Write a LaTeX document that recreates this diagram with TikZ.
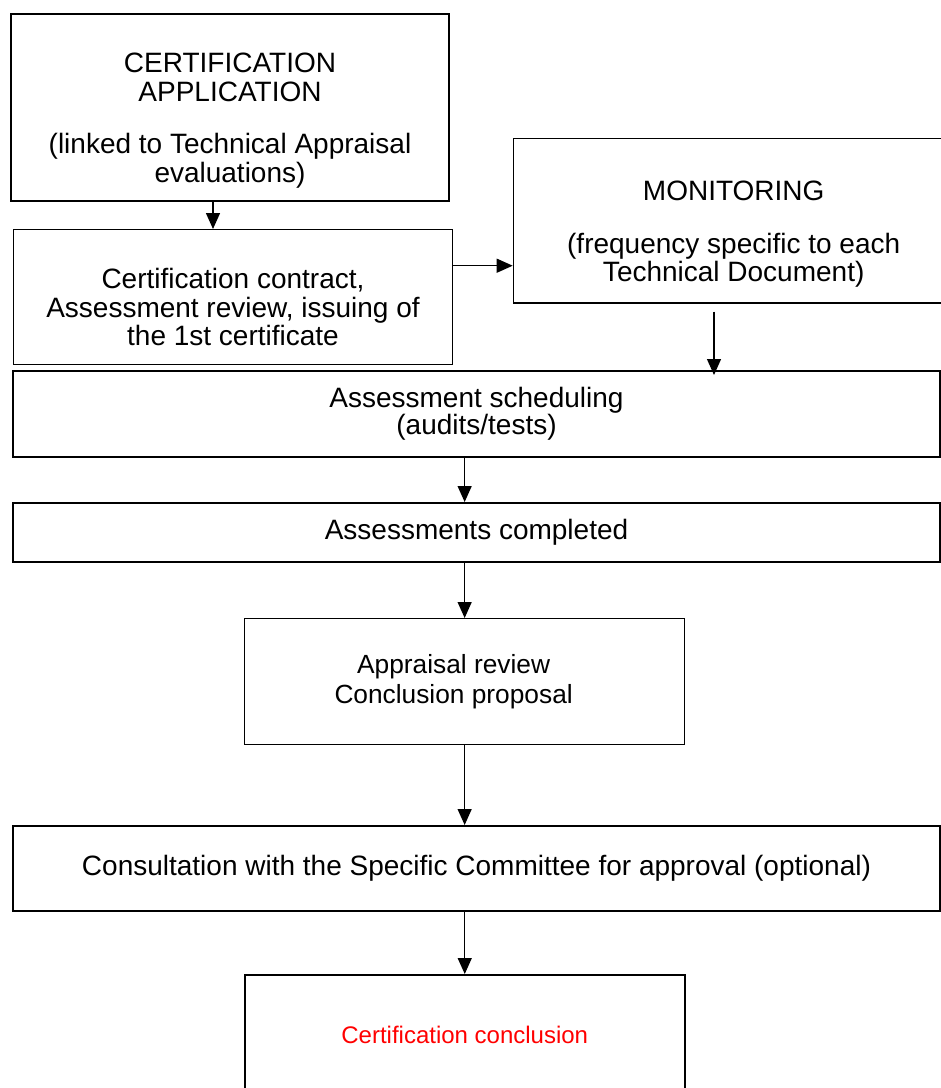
\documentclass[tikz,border=0pt]{standalone}
\usepackage{fontspec}
\setmainfont{Liberation Sans}
\usetikzlibrary{arrows.meta,calc}
\begin{document}
\begin{tikzpicture}[x=1pt,y=-1pt,
  box/.style={draw=black, line width=2pt, align=center, inner sep=0pt, anchor=north west,
              font=\fontsize{28}{28.5}\selectfont},
  thinbox/.style={box, line width=1.3pt},
  arr/.style={draw=black, line width=1.3pt, -{Triangle[length=16pt,width=14pt]}}]
\useasboundingbox (0,0) rectangle (941,1088);
\clip (0,0) rectangle (941,1088);

\node[box, minimum width=438pt, minimum height=187pt] (app) at (10,13)
  {\rule{0pt}{46pt}CERTIFICATION\\APPLICATION\\[24.2pt](linked to Technical Appraisal\\evaluations)};

\node[thinbox, minimum width=439.3pt, minimum height=135pt] (contract) at (12.7,229)
  {\rule{0pt}{40pt}Certification contract,\\Assessment review, issuing of\\the 1st certificate};

\node[box, line width=1.7pt, minimum width=440.3pt, minimum height=164.3pt] (mon) at (512.7,137.7)
  {\rule{0pt}{46.5pt}MONITORING\\[24.2pt](frequency specific to each\\Technical Document)};

\node[box, minimum width=927pt, minimum height=85.5pt, font=\fontsize{28}{26.7}\selectfont] (sched) at (12,370)
  {Assessment scheduling\\(audits/tests)};

\node[box, minimum width=927pt, minimum height=58.5pt] (done) at (12,502)
  {Assessments completed};

\node[thinbox, minimum width=440pt, minimum height=126pt, font=\fontsize{26.3}{30}\selectfont] (appr) at (244,618)
  {Appraisal review\rule{22pt}{0pt}\\Conclusion proposal\rule{22pt}{0pt}};

\node[box, minimum width=927pt, minimum height=85pt] (consult) at (12,825)
  {Consultation with the Specific Committee for approval (optional)};

\node[box, line width=1.5pt, minimum width=440pt, minimum height=120pt, text=red, font=\fontsize{24}{28}\selectfont] (concl) at (244,974)
  {Certification conclusion};

\coordinate (c1) at (213,0);
\coordinate (c2) at (0,265.7);
\coordinate (c3) at (714,0);

\draw[arr] (app.south -| c1) -- (contract.north -| c1);
\draw[arr] (contract.east |- c2) -- (mon.west |- c2);
\draw[arr] ($(mon.south -| c3)+(0,8)$) -- ($(sched.north -| c3)+(0,5)$);
\draw[arr] (sched.south -| appr.north) -- (done.north -| appr.north);
\draw[arr] (done.south -| appr.north) -- (appr.north);
\draw[arr] (appr.south) -- (consult.north -| appr.south);
\draw[arr] (consult.south -| concl.north) -- (concl.north);
\end{tikzpicture}
\end{document}
